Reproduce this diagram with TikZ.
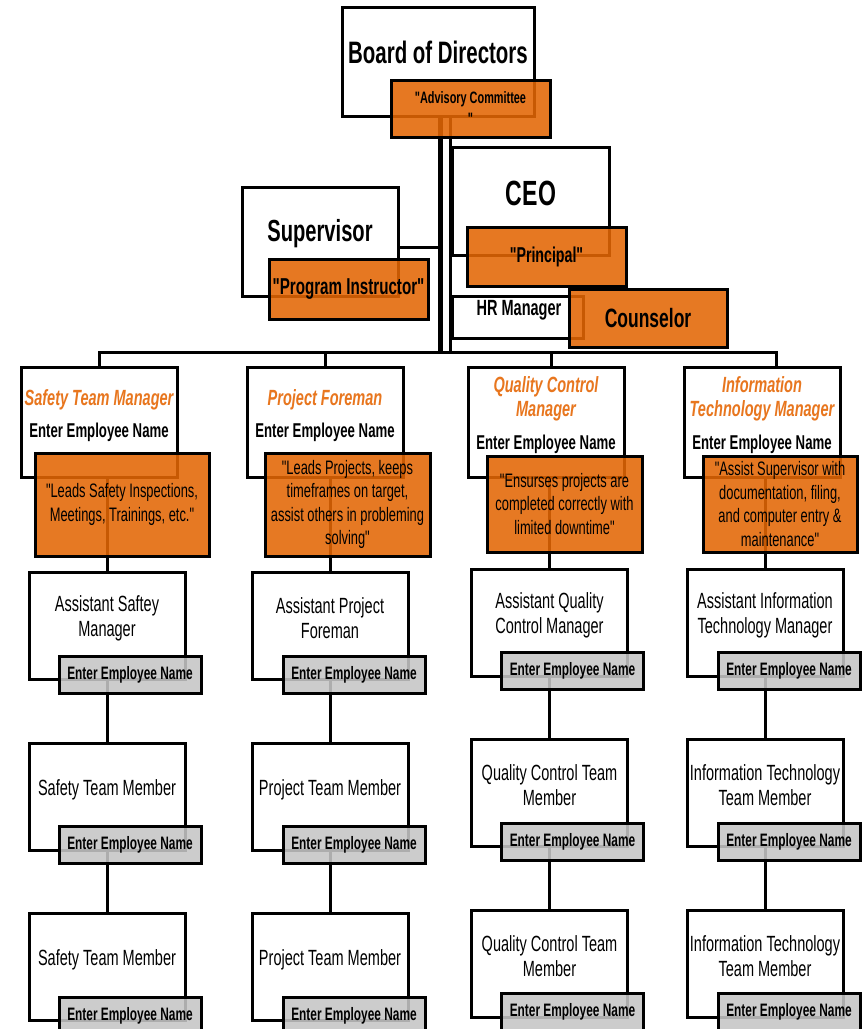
\documentclass[tikz,border=0pt]{standalone}
\usepackage{fontspec}
\setmainfont{Liberation Sans}[FakeStretch=0.66, Ligatures=TeXOff]
\usepackage{tikz}

\definecolor{orgfill}{RGB}{227,102,4}
\definecolor{orgtext}{RGB}{232,118,30}
\definecolor{greyfill}{RGB}{197,197,197}

\tikzset{
  wbox/.style={rectangle, draw, line width=3pt, fill=white, inner sep=0pt},
  obox/.style={rectangle, draw, line width=3pt, fill=orgfill, fill opacity=0.88, text opacity=1, align=center, inner sep=0pt},
  gbox/.style={rectangle, draw, line width=3pt, fill=greyfill, fill opacity=0.88, text opacity=1, inner sep=0pt,
    minimum width=142pt, minimum height=37pt, font=\bfseries\fontsize{18}{20}\selectfont},
  conn/.style={line width=3pt},
  headtxt/.style={font=\bfseries\itshape\fontsize{22}{24}\selectfont, text=orgtext, align=center},
  empname/.style={font=\bfseries\fontsize{20}{22}\selectfont},
  desc/.style={obox, font=\fontsize{19.5}{23.5}\selectfont},
  lowbox/.style={wbox, minimum width=156pt, minimum height=107pt},
  member/.style={font=\fontsize{22}{25}\selectfont, align=center},
}

\begin{document}
\begin{tikzpicture}[x=1pt, y=-1pt]
  \useasboundingbox (0,0) rectangle (863,1029);
  \clip (0,0) rectangle (863,1029);

  % top of the chart
  \node[wbox, minimum width=192pt, minimum height=109pt] (board) at (438,61.5) {};
  \node[wbox, minimum width=156pt, minimum height=109pt] (sup) at (320,241.5) {};
  \node[wbox, minimum width=157pt, minimum height=108pt] (ceo) at (530.5,201) {};
  \node[wbox, minimum width=131pt, minimum height=42pt] (hr) at (517.5,317) {};

  % managers
  \node[wbox, minimum width=156pt, minimum height=110pt] (m1) at (99,422) {};
  \node[wbox, minimum width=156pt, minimum height=110pt] (m2) at (325,422) {};
  \node[wbox, minimum width=156pt, minimum height=110pt] (m3) at (546,422) {};
  \node[wbox, minimum width=156pt, minimum height=110pt] (m4) at (762,422) {};

  % team boxes
  \node[lowbox] (a1) at (107,625.5) {};
  \node[lowbox] (b1) at (107,797) {};
  \node[lowbox] (c1) at (107,967) {};
  \node[lowbox] (a2) at (330,625.5) {};
  \node[lowbox] (b2) at (330,797) {};
  \node[lowbox] (c2) at (330,967) {};
  \node[lowbox] (a3) at (549.5,623) {};
  \node[lowbox] (b3) at (549.5,793) {};
  \node[lowbox] (c3) at (549.5,963.5) {};
  \node[lowbox] (a4) at (765,623) {};
  \node[lowbox] (b4) at (765,793) {};
  \node[lowbox] (c4) at (765,963.5) {};

  % connectors
  \coordinate (hub) at (440,352);
  \draw[line width=5pt] (board.south -| hub) -- (hub);
  \draw[conn] (board.south -| ceo.west) -- (ceo.west |- hub);
  \draw[conn] ([yshift=-5.5pt]sup.east) -- ([yshift=-5.5pt]sup.east -| hub);
  \draw[conn] (m1.north) |- (hub) -| ([xshift=14pt]m4.north);
  \draw[conn] (m2.north) -- (m2.north |- hub);
  \draw[conn] ([xshift=5pt]m3.north) -- ([xshift=5pt]m3.north |- hub);
  \draw[conn] (m1.south -| a1) -- (a1);
  \draw[conn] (m2.south -| a2) -- (a2);
  \draw[conn] (m3.south -| a3) -- (a3);
  \draw[conn] (m4.south -| a4) -- (a4);
  \draw[conn] (a1) -- (b1) -- (c1);
  \draw[conn] (a2) -- (b2) -- (c2);
  \draw[conn] (a3) -- (b3) -- (c3);
  \draw[conn] (a4) -- (b4) -- (c4);

  % texts in the white boxes
  \node[font=\bfseries\fontsize{31}{33}\selectfont] (boardt) at (438,52) {Board of Directors};
  \node[font=\bfseries\fontsize{30.5}{32}\selectfont] (supt) at (320,234) {Supervisor};
  \node[font=\bfseries\fontsize{35}{37}\selectfont] (ceot) at (531,193) {CEO};
  \node[font=\bfseries\fontsize{22}{24}\selectfont] (hrt) at (519,310) {HR Manager};

  \node[headtxt] (h1) at (99,400) {Safety Team Manager};
  \node[empname] (n1) at (99,432) {Enter Employee Name};
  \node[headtxt] (h2) at (325,400) {Project Foreman};
  \node[empname] (n2) at (325,432) {Enter Employee Name};
  \node[headtxt] (h3) at (546,399) {Quality Control\\Manager};
  \node[empname] (n3) at (546,444) {Enter Employee Name};
  \node[headtxt] (h4) at (762,399) {Information\\Technology Manager};
  \node[empname] (n4) at (762,444) {Enter Employee Name};

  \node[member] (a1t) at (107,618) {Assistant Saftey\\Manager};
  \node[member] (b1t) at (107,789.5) {Safety Team Member};
  \node[member] (c1t) at (107,959.5) {Safety Team Member};
  \node[member] (a2t) at (330,618) {Assistant Project\\Foreman};
  \node[member] (b2t) at (330,789.5) {Project Team Member};
  \node[member] (c2t) at (330,959.5) {Project Team Member};
  \node[member] (a3t) at (549.5,615.5) {Assistant Quality\\Control Manager};
  \node[member] (b3t) at (549.5,785.5) {Quality Control Team\\Member};
  \node[member] (c3t) at (549.5,956) {Quality Control Team\\Member};
  \node[member] (a4t) at (765,615.5) {Assistant Information\\Technology Manager};
  \node[member] (b4t) at (765,785.5) {Information Technology\\Team Member};
  \node[member] (c4t) at (765,956) {Information Technology\\Team Member};

  % orange boxes
  \node[obox, minimum width=159pt, minimum height=57pt, font=\bfseries\fontsize{16.5}{21}\selectfont] (adv) at (470.5,108.5) {"Advisory Committee\\"};
  \node[obox, minimum width=159pt, minimum height=60pt, font=\bfseries\fontsize{23}{25}\selectfont] (prog) at (348.5,289) {"Program Instructor"};
  \node[obox, minimum width=159pt, minimum height=59pt, font=\bfseries\fontsize{21.5}{23}\selectfont] (prin) at (546.5,256.5) {"Principal"};
  \node[obox, minimum width=158pt, minimum height=58pt, font=\bfseries\fontsize{26.5}{28}\selectfont] (couns) at (648,318) {Counselor};

  \node[desc, minimum width=174pt, minimum height=103pt] (o1) at (122,504.5) {"Leads Safety Inspections,\\Meetings, Trainings, etc."};
  \node[desc, minimum width=165pt, minimum height=103pt] (o2) at (347.5,504.5) {"Leads Projects, keeps\\timeframes on target,\\assist others in probleming\\solving"};
  \node[desc, minimum width=155pt, minimum height=96pt] (o3) at (564.5,504) {"Ensurses projects are\\completed correctly  with\\limited  downtime"};
  \node[desc, minimum width=154pt, minimum height=96pt] (o4) at (780,504) {"Assist Supervisor with\\documentation, filing,\\and computer entry \&\\maintenance"};

  % grey name boxes
  \node[gbox] (a1g) at (130,674.5) {Enter Employee Name};
  \node[gbox] (b1g) at (130,845) {Enter Employee Name};
  \node[gbox] (c1g) at (130,1015.5) {Enter Employee Name};
  \node[gbox] (a2g) at (354,674.5) {Enter Employee Name};
  \node[gbox] (b2g) at (354,845) {Enter Employee Name};
  \node[gbox] (c2g) at (354,1015.5) {Enter Employee Name};
  \node[gbox] (a3g) at (572.5,671) {Enter Employee Name};
  \node[gbox] (b3g) at (572.5,841.5) {Enter Employee Name};
  \node[gbox] (c3g) at (572.5,1011.5) {Enter Employee Name};
  \node[gbox] (a4g) at (789,671) {Enter Employee Name};
  \node[gbox] (b4g) at (789,841.5) {Enter Employee Name};
  \node[gbox] (c4g) at (789,1011.5) {Enter Employee Name};
\end{tikzpicture}
\end{document}
